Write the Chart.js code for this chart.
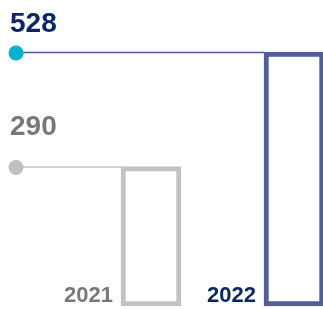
<!DOCTYPE html>
<html>
<head>
<meta charset="utf-8">
<script src="https://cdn.jsdelivr.net/npm/chart.js@4/dist/chart.umd.min.js"></script>
<style>
  html, body { margin: 0; padding: 0; background: #fff; }
  #wrap { width: 323px; height: 309px; }
</style>
</head>
<body>
<div id="wrap"><canvas id="yearchart" width="323" height="309"></canvas></div>
<script>
const years = ["2021", "2022"];
const values = [290, 528];

// styles per bar
const barColors = ["#c2c2c2", "#525e97"];
const lineColors = ["#c6c6c6", "#4f5b96"];
const dotColors = ["#bfbfbf", "#00b2d1"];
const textColors = ["#787878", "#0b2864"];

const markerPlugin = {
  id: "markers",
  afterDatasetsDraw(chart) {
    const ctx = chart.ctx;
    const meta = chart.getDatasetMeta(0);
    const bottom = chart.chartArea.bottom;
    const dotX = 16;

    meta.data.forEach((bar, i) => {
      const left = bar.x - bar.width / 2;
      const y = bar.y + 0.5;

      ctx.save();
      // leader line
      ctx.strokeStyle = lineColors[i];
      ctx.lineWidth = 1.5;
      ctx.beginPath();
      ctx.moveTo(dotX, y);
      ctx.lineTo(left, y);
      ctx.stroke();

      // dot
      ctx.fillStyle = dotColors[i];
      ctx.beginPath();
      ctx.arc(dotX, y + 0.5, 7.5, 0, Math.PI * 2);
      ctx.fill();

      // value label
      ctx.fillStyle = textColors[i];
      ctx.font = "bold 28px 'Liberation Sans', Arial, sans-serif";
      ctx.textAlign = "left";
      ctx.textBaseline = "alphabetic";
      ctx.fillText(String(values[i]), 10, Math.max(y - 32, 32));

      // year label
      ctx.font = "bold 22px 'Liberation Sans', Arial, sans-serif";
      ctx.textAlign = "right";
      ctx.fillText(years[i], left - 8, bottom - 4);
      ctx.restore();
    });
  },
};

new Chart(document.getElementById("yearchart").getContext("2d"), {
  type: "bar",
  data: {
    labels: years,
    datasets: [
      {
        data: values,
        backgroundColor: "#ffffff",
        borderColor: barColors,
        borderWidth: 5,
        borderSkipped: false,
        barThickness: 60,
        clip: false,
      },
    ],
  },
  options: {
    responsive: false,
    animation: false,
    layout: { padding: { left: 151, right: 29, top: 52, bottom: 3 } },
    plugins: {
      legend: { display: false },
      tooltip: { enabled: false },
    },
    scales: {
      x: { display: false, offset: false, grid: { display: false } },
      y: {
        display: false,
        min: 0,
        max: Math.max(...values),
        grid: { display: false },
      },
    },
  },
  plugins: [markerPlugin],
});
</script>
</body>
</html>
